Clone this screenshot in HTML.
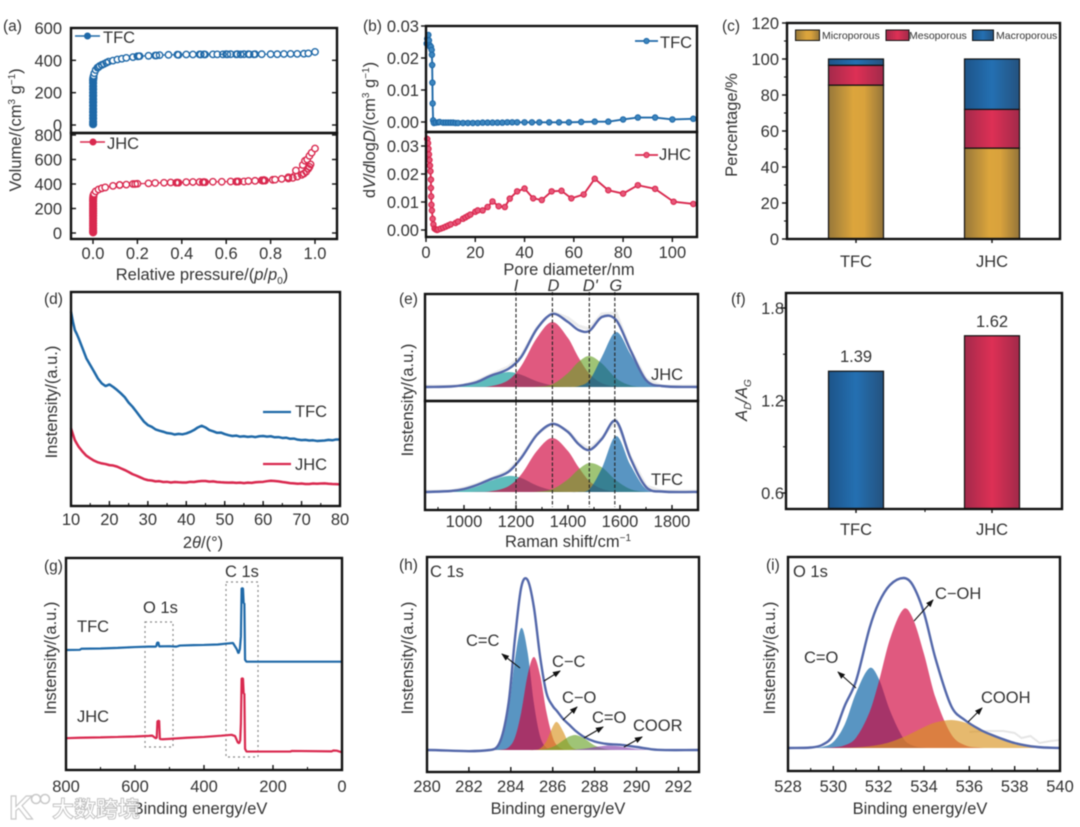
<!DOCTYPE html>
<html lang="en">
<head>
<meta charset="utf-8">
<title>Carbon characterisation figure</title>
<style>
html,body{margin:0;padding:0;background:#fff;width:1080px;height:827px;overflow:hidden}
svg{display:block;filter:blur(0.5px)}
text{font-family:"Liberation Sans","Noto Sans CJK SC",sans-serif;fill:#333;font-size:16.5px}
.it{font-style:italic}
.pl{font-size:15.5px}
</style>
</head>
<body>
<svg id="chart" xmlns="http://www.w3.org/2000/svg" width="1080" height="827" viewBox="0 0 1080 827">
<defs>
<linearGradient id="gGold" x1="0" x2="1" y1="0" y2="0"><stop offset="0" stop-color="#97783a"/><stop offset=".45" stop-color="#dca53c"/><stop offset=".65" stop-color="#d9a23c"/><stop offset="1" stop-color="#94753a"/></linearGradient>
<linearGradient id="gRed" x1="0" x2="1" y1="0" y2="0"><stop offset="0" stop-color="#a42a4b"/><stop offset=".5" stop-color="#de3055"/><stop offset="1" stop-color="#a22a4a"/></linearGradient>
<linearGradient id="gBlue" x1="0" x2="1" y1="0" y2="0"><stop offset="0" stop-color="#1d5489"/><stop offset=".5" stop-color="#2470b2"/><stop offset="1" stop-color="#24527f"/></linearGradient>
<marker id="ah" markerWidth="8" markerHeight="6" refX="7" refY="3" orient="auto" markerUnits="userSpaceOnUse"><path d="M0 0L8 3L0 6Z" fill="#111"/></marker>
</defs>

<!-- panel letters -->
<text class="pl" x="3" y="31">(a)</text>
<text class="pl" x="363" y="31">(b)</text>
<text class="pl" x="722" y="31">(c)</text>
<text class="pl" x="44" y="304">(d)</text>
<text class="pl" x="399" y="304">(e)</text>
<text class="pl" x="731" y="304">(f)</text>
<text class="pl" x="44" y="571">(g)</text>
<text class="pl" x="399" y="570">(h)</text>
<text class="pl" x="766" y="570">(i)</text>

<!-- axis titles -->
<text x="202" y="280" text-anchor="middle">Relative pressure/(<tspan class="it">p</tspan>/<tspan class="it">p</tspan><tspan dy="4" font-size="10">0</tspan><tspan dy="-4">)</tspan></text>
<text transform="rotate(-90 21 130)" x="21" y="130" text-anchor="middle">Volume/(cm<tspan dy="-6" font-size="10">3</tspan><tspan dy="6"> g</tspan><tspan dy="-6" font-size="10">−1</tspan><tspan dy="6">)</tspan></text>
<text x="569" y="275" text-anchor="middle">Pore diameter/nm</text>
<text transform="rotate(-90 375 130)" x="375" y="130" text-anchor="middle">d<tspan class="it">V</tspan>/<tspan class="it">d</tspan>log<tspan class="it">D</tspan>/(cm<tspan dy="-6" font-size="10">3</tspan><tspan dy="6"> g</tspan><tspan dy="-6" font-size="10">−1</tspan><tspan dy="6">)</tspan></text>
<text transform="rotate(-90 737 125)" x="737" y="125" text-anchor="middle">Percentage/%</text>
<text x="203" y="548" text-anchor="middle">2<tspan class="it">θ</tspan>/(°)</text>
<text transform="rotate(-90 57 402)" x="57" y="402" text-anchor="middle">Instensity/(a.u.)</text>
<text x="568" y="547" text-anchor="middle">Raman shift/cm<tspan dy="-6" font-size="10">−1</tspan></text>
<text transform="rotate(-90 413 400)" x="413" y="400" text-anchor="middle">Instensity/(a.u.)</text>
<text transform="rotate(-90 747 400)" x="747" y="400" text-anchor="middle" class="it">A<tspan dy="4" font-size="10">D</tspan><tspan dy="-4">/A</tspan><tspan dy="4" font-size="10">G</tspan></text>
<text x="200" y="814" text-anchor="middle">Binding energy/eV</text>
<text transform="rotate(-90 56 658)" x="56" y="658" text-anchor="middle">Instensity/(a.u.)</text>
<text x="558" y="814" text-anchor="middle">Binding energy/eV</text>
<text transform="rotate(-90 413 658)" x="413" y="658" text-anchor="middle">Instensity/(a.u.)</text>
<text x="920" y="814" text-anchor="middle">Binding energy/eV</text>
<text transform="rotate(-90 775 658)" x="775" y="658" text-anchor="middle">Instensity/(a.u.)</text>

<!-- legends and annotations -->
<text x="103" y="43">TFC</text>
<text x="107" y="149">JHC</text>
<text x="660" y="48">TFC</text>
<text x="659" y="160">JHC</text>

<rect x="795.5" y="30" width="24" height="10.5" fill="url(#gGold)" stroke="#111" stroke-width="1"/>
<text x="822" y="39" style="font-size:10.5px">Microporous</text>
<rect x="886" y="30" width="23" height="10.5" fill="url(#gRed)" stroke="#111" stroke-width="1"/>
<text x="909" y="39" style="font-size:10.5px">Mesoporous</text>
<rect x="972.5" y="30" width="21" height="10.5" fill="url(#gBlue)" stroke="#111" stroke-width="1"/>
<text x="996" y="39" style="font-size:10.5px">Macroporous</text>

<line x1="263" x2="291" y1="412" y2="412" stroke="#1f69a8" stroke-width="2.2"/>
<text x="295" y="417">TFC</text>
<line x1="263" x2="291" y1="464" y2="464" stroke="#d9294f" stroke-width="2.2"/>
<text x="295" y="470">JHC</text>

<text x="651" y="380">JHC</text>
<text x="651" y="485">TFC</text>

<text x="77" y="632">TFC</text>
<text x="77" y="722">JHC</text>
<text x="143" y="613">O 1s</text>
<text x="225" y="577">C 1s</text>
<rect x="145" y="622" width="28" height="125" fill="none" stroke="#888" stroke-width="1.2" stroke-dasharray="2 3"/>
<rect x="226" y="582" width="32" height="175" fill="none" stroke="#888" stroke-width="1.2" stroke-dasharray="2 3"/>

<text x="430" y="577">C 1s</text>
<text x="466" y="646">C=C</text>
<text x="552" y="667">C−C</text>
<text x="562" y="703">C−O</text>
<text x="592" y="723">C=O</text>
<text x="633" y="731">COOR</text>

<text x="793" y="577">O 1s</text>
<text x="935" y="599">C−OH</text>
<text x="804" y="663">C=O</text>
<text x="981" y="703">COOH</text>

<!-- watermark -->
<g opacity=".9">
  <text x="9" y="819" style="font-size:33px;font-weight:bold;fill:#fff;stroke:#c4c4c4;stroke-width:1.2">K</text>
  <circle cx="36" cy="799" r="4.5" fill="#fff" stroke="#c4c4c4" stroke-width="1.6"/>
  <circle cx="45" cy="799" r="4.5" fill="#fff" stroke="#c4c4c4" stroke-width="1.6"/>
  <text x="52" y="817" style="font-size:22px;font-weight:bold;fill:#fff;stroke:#b8b8b8;stroke-width:.9">大数跨境</text>
</g>
</svg>

<script>
// ---------- panel (a) N2 isotherms ----------
const tfcLowP = [0.0005,0.0005,0.0005,0.0005,0.0005,0.0005,0.0005,0.0005,0.0005,0.0005,0.0005,0.0005,0.0005,0.0005,0.0005,0.001,0.002];
const tfcLowV = [5,20,40,60,80,100,120,140,160,180,200,220,240,260,275,285,295];
const tfcP = [0.003,0.006,0.012,0.02,0.03,0.04,0.05,0.07,0.09,0.11,0.13,0.15,0.18,0.2,0.21,0.25,0.28,0.3,0.34,0.38,0.42,0.45,0.48,0.5,0.54,0.56,0.6,0.62,0.65,0.68,0.7,0.73,0.76,0.8,0.83,0.86,0.89,0.92,0.95,0.97,1.0];
const tfcV = [305,320,340,355,365,372,378,392,398,405,410,415,420,425,426,428,430,432,434,435,436,436,437,437,437,437,438,438,438,438,438,438,438,438,438,439,440,440,441,443,452];
const tfcDesP = [0.725,0.705,0.665,0.645,0.605,0.585,0.505,0.485,0.385,0.285,0.205,0.06,0.04,0.025];
const tfcDesV = [437,437,437,437,437,437,436,436,434,430,425,385,372,358];
const jhcLowP = [0.0005,0.0005,0.0005,0.0005,0.0005,0.0005,0.0005,0.0005,0.0005,0.0005,0.0005,0.0005,0.0005,0.0005,0.0005,0.001,0.002];
const jhcLowV = [5,20,40,60,80,100,120,140,160,180,200,220,240,260,275,290,305];
const jhcP = [0.005,0.012,0.025,0.04,0.055,0.09,0.12,0.15,0.18,0.2,0.25,0.28,0.32,0.35,0.38,0.42,0.45,0.48,0.5,0.54,0.58,0.62,0.65,0.68,0.7,0.73,0.76,0.77,0.81,0.82,0.85,0.88,0.914,0.945,0.955,0.965,0.975,0.985,1.0];
const jhcV = [320,340,355,365,372,385,392,395,400,402,405,408,410,412,412,415,416,416,416,418,418,420,420,420,424,426,430,432,434,436,442,455,510,555,590,600,630,655,690];
const jhcDesP = [0.98,0.975,0.97,0.96,0.95,0.94,0.92,0.9,0.88,0.775,0.765,0.655,0.645,0.505,0.495,0.385,0.375,0.19,0.12];
const jhcDesV = [560,540,525,500,485,475,460,450,445,428,427,420,419,414,414,410,410,400,392];

// ---------- panel (b) pore size distribution ----------
const tfcD = [0.3,0.5,0.95,1.2,1.5,1.7,2,2.3,2.4,2.5,2.6,2.7,2.9,3.2,4,5,5.5,7,8,9,10,11,12,13,15,17,19,21,23,25,27,29,31,33,35,37,40,43,46,50,54,58,63,68.5,74,80,86,93,100,108.5];
const tfcDV = [0.0245,0.026,0.0272,0.0255,0.024,0.0235,0.0235,0.0225,0.021,0.0178,0.0123,0.0058,0.0005,-0.0003,-0.0002,-0.0001,0,-0.0002,-0.0002,-0.0002,-0.0002,-0.0002,-0.0003,-0.0003,-0.0003,-0.0003,-0.0003,-0.0003,-0.0002,-0.0002,-0.0002,-0.0002,-0.0002,-0.0001,-0.0001,-0.0001,-0.0001,-0.0001,-0.0001,-0.0001,-0.0001,-0.0001,0,0.0001,0.0001,0.0008,0.0014,0.0014,0.0008,0.001];
const jhcD = [0.5,0.8,1,1.2,1.4,1.6,1.8,2,2,2.1,2.2,2.4,2.7,3,3.5,4,4.5,5,6,7,8,9,10,12,13,15,16,17,18,20,21,23,25,27,29.5,32,34,37,40,43.5,47,51,55,59,64,68.5,74,80,86,93,100.5,108.5];
const jhcDV = [0.0325,0.031,0.029,0.027,0.025,0.023,0.021,0.018,0.015,0.012,0.009,0.007,0.004,0.002,0.0005,0.0002,0,0.0002,0.0005,0.0008,0.0012,0.0016,0.002,0.0025,0.003,0.004,0.0045,0.005,0.0055,0.0065,0.007,0.007,0.0082,0.0102,0.0085,0.0082,0.0112,0.0138,0.0148,0.0113,0.0107,0.0138,0.014,0.0113,0.0127,0.0183,0.0142,0.013,0.016,0.0147,0.0101,0.0093];

// ---------- panel (c) pore fractions ----------
const barSamples = ['TFC','JHC'];
const microPct = [85.5,50.5];
const mesoPct = [11,21.5];
const macroPct = [3.5,28];

// ---------- panel (d) XRD ----------
const xrdTheta = [10,10.5,11,11.5,12,13,14,15,16,17,18,19,20,21,22,23,24,25,26,27,28,29,30,31,32,33,34,35,36,37,38,39,40,41,42,43,44,45,46,47,48,49,50,51,52,53,54,55,56,57,58,59,60,61,62,63,64,65,66,67,68,69,70,71,72,73,74,75,76,77,78,79,80];
const xrdTfc = [90.8,86.1,82.2,80.4,78.3,73.7,69,65.9,62.8,59.6,57.3,56,56.8,55.6,54.2,52.6,50.8,48.3,46.4,44.1,41.7,39.4,37.8,37,35.8,35.2,34.7,34.1,33.9,33.4,33.7,33.5,33.9,34.6,35.5,36.7,37.5,36.7,35.5,34.9,34.2,34.3,33.6,33.1,32.7,32.9,32.4,32.6,32.3,32.5,32.2,32.6,32.7,32.4,32.6,32.1,32.2,31.8,31.9,31.4,31.5,31,30.8,30.9,30.6,30.7,30.4,30.5,30.6,30.9,30.7,31.1,31.1];
const xrdJhc = [36.3,33.5,30.8,29.2,27.7,25.4,23.5,22.3,21.2,20.4,19.9,19.6,19.1,18.9,18.4,17.6,16.8,15.9,14.9,14.2,13.4,12.6,12.1,11.9,11.5,11.6,11.2,11.3,11,11.2,11.1,11,11,11.3,11.2,11.5,11.7,11.7,11.4,11.5,11.2,11.1,11,10.9,11,10.8,10.9,10.7,10.9,10.8,11.1,11.2,11.3,11.6,11.8,11.7,11.5,11.2,11,10.7,10.6,10.4,10.5,10.3,10.3,10.5,10.4,10.5,10.6,10.4,10.3,10.2,10.1];

// ---------- panel (e) Raman ----------
const ramanShift = [850,950,1000,1050,1100,1170,1220,1280,1340,1400,1440,1482,1530,1585,1640,1700,1760,1900];
const ramanBands = ['I','D',"D'",'G'];
const ramanBandCenters = [1200,1340,1482,1580];
const jhcI = [0,.34,1.6,4.9,10.2,15,12.3,5.8,1.6,.2,0,0,0,0,0,0,0,0];
const jhcDband = [0,0,0,.1,.7,6.8,21,49,65,49,29.8,13.4,3.9,.6,0,0,0,0];
const jhcDprime = [0,0,0,0,0,0,0,.25,2.8,14,25,31,23.6,8.8,1.6,.1,0,0];
const jhcG = [0,0,0,0,0,0,0,0,0,.05,.8,6.6,30,55,33,6,.1,0];
const jhcEnv = [0,.5,2,5,11,18,30,58,73,65,57,56,70,67,37,7,1,0];
const jhcRaw = [1,1,2,6,12,20,31,59,75,69,61,58,73,74,37,8,1,1];
const tfcI = [0,.4,2,5.5,11,16,14,6.5,1.8,.3,0,0,0,0,0,0,0,0];
const tfcDband = [0,0,0,.1,.6,5.6,17.5,41,54,41,25,11,3.2,.5,0,0,0,0];
const tfcDprime = [0,0,0,0,0,0,0,.3,2.9,12.7,22.5,29,24.7,11.6,2.9,.3,0,0];
const tfcG = [0,0,0,0,0,0,0,0,0,0,.1,2.7,23.6,56,27,3,0,0];
const tfcEnv = [0,1,3,7,12.5,20,34,57,68,60,48,42,53,71,34,5,.5,0];
const tfcRaw = [1,1,4,8,13,21,35,58,69,61,49,43,54,72,35,6,1,1];

// ---------- panel (f) AD/AG ----------
const adagValues = [1.39,1.62];
const adagLabels = ['1.39','1.62'];

// ---------- panel (g) XPS survey ----------
const surveyTfcBE = [800,760,755,700,650,600,560,540,538,536,532,530,500,480,470,430,400,360,330,316,305,300,296,293,291,287,285,283,281,277,0];
const surveyTfc = [56.6,56.7,57.2,57.3,57.6,58,58.2,58.2,58.5,60,60.2,58.3,58.4,58.2,58.7,58.9,59,59.2,59.7,59.9,57,55,57,63,85.7,85.7,78.6,78.6,52,51.1,51.1];
const surveyJhcBE = [800,760,700,650,600,560,550,540,537,535,530,528,520,500,450,400,350,320,310,302,298,295,293,291,287,285,283,281,277,150,145,30,25,15,5,0];
const surveyJhc = [15,15.2,15.4,15.6,15.8,16.1,16.2,15,15.2,23,23.3,14.6,14.5,14.7,15.2,15.6,16.2,16.6,16,13,12.6,14,22,43.2,43.2,36,36,10,8.7,8.7,9,8.8,9.2,9.1,8.6,8.4];

// ---------- panel (h) C 1s ----------
const c1sBE = [280,283,283.5,283.9,284.2,284.5,284.8,285.1,285.4,285.7,286,286.2,286.5,286.8,287.1,287.5,288,288.6,289.2,290,291,293];
const c1sCC2 = [0,.2,6.4,41,91,122,98,47,13.5,2.4,.2,0,0,0,0,0,0,0,0,0,0,0];
const c1sCC1 = [0,0,.2,2.7,12.6,38,74.6,93,74.6,38,12.6,4.7,.7,.1,0,0,0,0,0,0,0,0];
const c1sCO1 = [0,0,0,0,0,0,0,0,1.5,8.9,23.3,28,18.5,5.4,.7,0,0,0,0,0,0,0];
const c1sCO2 = [0,0,0,0,0,0,0,0,.3,1.1,3.1,5.2,9.6,13.6,15,11.6,4.5,.6,0,0,0,0];
const c1sCOOR = [0,0,0,0,0,0,0,0,0,0,0,0,0,0,.5,1.25,2.9,4.4,3.6,1,0,0];
const c1sEnv = [0,0,9,48,112,163,170,143,93,57,44,39,31,25,19,13,8.5,6,5.3,3,.2,0];

// ---------- panel (i) O 1s ----------
const o1sBE = [528,529,529.5,530,530.5,531,531.6,532,532.5,533.1,533.5,534,534.5,535.2,535.8,536.5,537,538,539,540];
const o1sCO = [0,.1,1,6.1,23.4,54.9,80,69.5,37.4,9.3,2.5,.3,0,0,0,0,0,0,0,0];
const o1sCOH = [0,0,0,.6,2.7,10.3,36,65.7,109,139,130,94,51,13.8,2.9,.3,0,0,0,0];
const o1sCOOH = [0,0,0,0,.2,.6,1.7,3.1,5.9,11,15.3,20.9,25.5,28,25.5,18.7,13,4.6,1,.1];
const o1sEnv = [0,.5,3,13,42,67,120,145,163,170,163,135,90,42,28,18,13,5,1,0];
const o1sRawBE = [536,536.8,537.5,538,538.3,538.7,539.1,539.6,540];
const o1sRaw = [16,17,17,15,10,12,5,7,8];

// ---------- tick values / labels ----------
const aXTicks = [0,0.2,0.4,0.6,0.8,1.0];
const aXLabels = ['0.0','0.2','0.4','0.6','0.8','1.0'];
const aTopTicks = [0,200,400,600];
const aTopLabels = ['0','200','400','600'];
const aLowTicks = [0,200,400,600,800];
const aLowLabels = ['0','200','400','600','800'];
const bXTicks = [0,20,40,60,80,100];
const bXLabels = ['0','20','40','60','80','100'];
const bYTicks = [0,0.01,0.02,0.03];
const bYLabels = ['0.00','0.01','0.02','0.03'];
const cYTicks = [0,20,40,60,80,100,120];
const cYLabels = ['0','20','40','60','80','100','120'];
const cYMinor = [10,30,50,70,90,110];
const dXTicks = [10,20,30,40,50,60,70,80];
const dXLabels = ['10','20','30','40','50','60','70','80'];
const dXMinor = [15,25,35,45,55,65,75];
const eXTicks = [1000,1200,1400,1600,1800];
const eXLabels = ['1000','1200','1400','1600','1800'];
const eXMinor = [900,1100,1300,1500,1700];
const fYTicks = [0.6,1.2,1.8];
const fYLabels = ['0.6','1.2','1.8'];
const fYMinor = [0.9,1.5];
const gXTicks = [800,600,400,200,0];
const gXLabels = ['800','600','400','200','0'];
const gXMinor = [700,500,300,100];
const hXTicks = [280,282,284,286,288,290,292];
const hXLabels = ['280','282','284','286','288','290','292'];
const iXTicks = [528,530,532,534,536,538,540];
const iXLabels = ['528','530','532','534','536','538','540'];
const iXMinor = [529,531,533,535,537,539];

// ---------- helpers ----------
const NS = 'http://www.w3.org/2000/svg';
const root = document.getElementById('chart');
const BLUE = '#1f69a8', RED = '#d9294f', ENV = '#5468aa', INK = '#111';
function mk(tag, attrs, name) {
  const el = document.createElementNS(NS, tag);
  for (const k in attrs) el.setAttribute(k, attrs[k]);
  
  
  root.appendChild(el);
  return el;
}
function label(x, y, str, anchor, name) {
  const el = mk('text', {x: x, y: y, 'text-anchor': anchor}, name);
  el.textContent = str;
  return el;
}
function scale(d0, d1, r0, r1) { return v => r0 + (v - d0) * (r1 - r0) / (d1 - d0); }
function poly(xs, ys, sx, sy) { return xs.map((x, i) => (i ? 'L' : 'M') + sx(x).toFixed(2) + ' ' + sy(ys[i]).toFixed(2)).join(''); }
function smooth(xs, ys, sx, sy) {
  const px = xs.map(sx), py = ys.map(sy), n = px.length;
  const slope = i => {
    const a = Math.max(i - 1, 0), b = Math.min(i + 1, n - 1);
    return (py[b] - py[a]) / (px[b] - px[a]);
  };
  let d = 'M' + px[0].toFixed(2) + ' ' + py[0].toFixed(2);
  for (let i = 0; i < n - 1; i++) {
    const h = (px[i + 1] - px[i]) / 3;
    d += 'C' + (px[i] + h).toFixed(2) + ' ' + (py[i] + slope(i) * h).toFixed(2) + ' ' +
         (px[i + 1] - h).toFixed(2) + ' ' + (py[i + 1] - slope(i + 1) * h).toFixed(2) + ' ' +
         px[i + 1].toFixed(2) + ' ' + py[i + 1].toFixed(2);
  }
  return d;
}
function peak(xs, ys, sx, sy, color, name) {
  const d = smooth(xs, ys, sx, sy) + 'L' + sx(xs[xs.length - 1]) + ' ' + sy(0) + 'L' + sx(xs[0]) + ' ' + sy(0) + 'Z';
  mk('path', {d: d, fill: color, 'fill-opacity': .65, stroke: 'none'}, name);
}
function envelope(xs, ys, sx, sy, name) {
  mk('path', {d: smooth(xs, ys, sx, sy), fill: 'none', stroke: ENV, 'stroke-width': 2.4}, name);
}
function xAxis(vals, labs, minor, sx, yAxis, yLab, dir, pfx) {
  vals.forEach((v, i) => {
    mk('line', {x1: sx(v), x2: sx(v), y1: yAxis, y2: yAxis + dir * 5, stroke: INK, 'stroke-width': 1.4}, pfx + '-x-tick');
    label(sx(v), yLab, labs[i], 'middle', pfx + '-x-tick-label');
  });
  minor.forEach(v => {
    mk('line', {x1: sx(v), x2: sx(v), y1: yAxis, y2: yAxis + dir * 3, stroke: INK, 'stroke-width': 1.1}, pfx + '-x-minor-tick');
  });
}
function yAxis(vals, labs, minor, sy, xAxisPos, xLab, dir, pfx) {
  vals.forEach((v, i) => {
    mk('line', {x1: xAxisPos, x2: xAxisPos + dir * 5, y1: sy(v), y2: sy(v), stroke: INK, 'stroke-width': 1.4}, pfx + '-y-tick');
    label(xLab, sy(v) + 6, labs[i], 'end', pfx + '-y-tick-label');
  });
  minor.forEach(v => {
    mk('line', {x1: xAxisPos, x2: xAxisPos + dir * 3, y1: sy(v), y2: sy(v), stroke: INK, 'stroke-width': 1.1}, pfx + '-y-minor-tick');
  });
}
function frame(x0, y0, x1, y1, name) {
  mk('rect', {x: x0, y: y0, width: x1 - x0, height: y1 - y0, fill: 'none', stroke: INK, 'stroke-width': 2.4}, name);
}
function markers(xs, ys, sx, sy, r, fill, stroke, sw, name) {
  xs.forEach((x, i) => {
    mk('circle', {cx: sx(x), cy: sy(ys[i]), r: r, fill: fill, stroke: stroke, 'stroke-width': sw}, name);
  });
}

// ---------- panel a ----------
const ax = scale(0, 1, 93, 315), ayT = scale(0, 600, 125, 28), ayB = scale(0, 800, 233, 135);
mk('path', {d: poly(tfcP, tfcV, ax, ayT), fill: 'none', stroke: BLUE, 'stroke-width': 1.2}, 'a-tfc-line');
markers(tfcLowP, tfcLowV, ax, ayT, 3.6, BLUE, BLUE, 1, 'a-tfc-low-pressure-point');
markers(tfcP, tfcV, ax, ayT, 3.2, '#fff', BLUE, 1.4, 'a-tfc-point');
markers(tfcDesP, tfcDesV, ax, ayT, 3.2, 'none', BLUE, 1.4, 'a-tfc-desorption-point');
mk('path', {d: poly(jhcP, jhcV, ax, ayB), fill: 'none', stroke: RED, 'stroke-width': 1.2}, 'a-jhc-line');
markers(jhcLowP, jhcLowV, ax, ayB, 3.6, RED, RED, 1, 'a-jhc-low-pressure-point');
markers(jhcP, jhcV, ax, ayB, 3.2, '#fff', RED, 1.4, 'a-jhc-point');
markers(jhcDesP, jhcDesV, ax, ayB, 3.2, 'none', RED, 1.4, 'a-jhc-desorption-point');
mk('line', {x1: 75, x2: 100, y1: 36, y2: 36, stroke: BLUE, 'stroke-width': 1.4}, 'a-legend-line-tfc');
mk('circle', {cx: 87.5, cy: 36, r: 3, fill: BLUE, stroke: BLUE}, 'a-legend-marker-tfc');
mk('line', {x1: 80, x2: 105, y1: 142, y2: 142, stroke: RED, 'stroke-width': 1.4}, 'a-legend-line-jhc');
mk('circle', {cx: 93, cy: 142, r: 3, fill: RED, stroke: RED}, 'a-legend-marker-jhc');
xAxis(aXTicks, aXLabels, [], ax, 239, 259, 1, 'a');
yAxis(aTopTicks, aTopLabels, [], ayT, 71, 62, 1, 'a-top');
yAxis(aTopTicks, [' ',' ',' ',' '], [], ayT, 337, 400, -1, 'a-top-right');
yAxis(aLowTicks, aLowLabels, [], ayB, 71, 62, 1, 'a-bottom');
yAxis(aLowTicks, [' ',' ',' ',' ',' '], [], ayB, 337, 400, -1, 'a-bottom-right');
frame(71, 28, 337, 133, 'a-top-frame');
frame(71, 133, 337, 239, 'a-bottom-frame');

// ---------- panel b ----------
const bx = scale(0, 110, 426, 697), byT = scale(0, 0.03, 122, 26), byB = scale(0, 0.03, 230, 146);
mk('path', {d: poly(tfcD, tfcDV, bx, byT), fill: 'none', stroke: BLUE, 'stroke-width': 1.9}, 'b-tfc-line');
markers(tfcD, tfcDV, bx, byT, 2.7, '#3d86bf', BLUE, 1.1, 'b-tfc-point');
mk('path', {d: poly(jhcD, jhcDV, bx, byB), fill: 'none', stroke: RED, 'stroke-width': 1.9}, 'b-jhc-line');
markers(jhcD, jhcDV, bx, byB, 2.7, '#e8577a', RED, 1.1, 'b-jhc-point');
mk('line', {x1: 635, x2: 658, y1: 41, y2: 41, stroke: BLUE, 'stroke-width': 1.7}, 'b-legend-line-tfc');
mk('circle', {cx: 646.5, cy: 41, r: 2.6, fill: '#3d86bf', stroke: BLUE}, 'b-legend-marker-tfc');
mk('line', {x1: 635, x2: 658, y1: 155, y2: 155, stroke: RED, 'stroke-width': 1.7}, 'b-legend-line-jhc');
mk('circle', {cx: 646.5, cy: 155, r: 2.6, fill: '#e8577a', stroke: RED}, 'b-legend-marker-jhc');
xAxis(bXTicks, bXLabels, [], bx, 237, 258, 1, 'b');
yAxis(bYTicks, bYLabels, [], byT, 426, 419, -1, 'b-top');
yAxis(bYTicks, bYLabels, [], byB, 426, 419, -1, 'b-bottom');
frame(426, 26, 697, 132, 'b-top-frame');
frame(426, 132, 697, 237, 'b-bottom-frame');

// ---------- panel c ----------
const cy = scale(0, 120, 239, 23);
const cCat = i => 856 + 136 * i;
barSamples.forEach((s, i) => {
  const parts = [[microPct[i], 'url(#gGold)', 'microporous'], [mesoPct[i], 'url(#gRed)', 'mesoporous'], [macroPct[i], 'url(#gBlue)', 'macroporous']];
  let base = 0;
  parts.forEach(p => {
    mk('rect', {x: cCat(i) - 27.5, y: cy(base + p[0]), width: 55, height: cy(base) - cy(base + p[0]), fill: p[1], stroke: INK, 'stroke-width': 1.2}, 'c-bar-' + s.toLowerCase() + '-' + p[2]);
    base += p[0];
  });
  mk('line', {x1: cCat(i), x2: cCat(i), y1: 239, y2: 243, stroke: INK, 'stroke-width': 1.4}, 'c-x-tick');
  label(cCat(i), 267, s, 'middle', 'c-category-label');
});
yAxis(cYTicks, cYLabels, cYMinor, cy, 787, 779, -1, 'c');
frame(787, 23, 1060, 239, 'c-frame');

// ---------- panel d ----------
const dx = scale(10, 80, 71, 340), dy = scale(0, 100, 506, 292);
mk('path', {d: poly(xrdTheta, xrdTfc, dx, dy), fill: 'none', stroke: BLUE, 'stroke-width': 2.5, 'stroke-linejoin': 'bevel'}, 'd-tfc-curve');
mk('path', {d: poly(xrdTheta, xrdJhc, dx, dy), fill: 'none', stroke: RED, 'stroke-width': 2.5, 'stroke-linejoin': 'bevel'}, 'd-jhc-curve');
xAxis(dXTicks, dXLabels, dXMinor, dx, 506, 525, -1, 'd');
frame(71, 292, 340, 506, 'd-frame');

// ---------- panel e ----------
const ex = scale(1000, 1800, 464, 672), eyT = v => 387 - v, eyB = v => 492 - v;
const TEAL = '#099898', PINK = '#d0003a', GREEN = '#6ca52d', PBLUE = '#005ca1', GOLD = '#d99420', PURPLE = '#843fab';
mk('path', {d: poly(ramanShift, jhcRaw, ex, eyT), fill: 'none', stroke: '#ececec', 'stroke-width': 3}, 'e-jhc-raw');
peak(ramanShift, jhcI, ex, eyT, TEAL, 'e-jhc-peak-i');
peak(ramanShift, jhcDband, ex, eyT, PINK, 'e-jhc-peak-d');
peak(ramanShift, jhcDprime, ex, eyT, GREEN, 'e-jhc-peak-d-prime');
peak(ramanShift, jhcG, ex, eyT, PBLUE, 'e-jhc-peak-g');
envelope(ramanShift, jhcEnv, ex, eyT, 'e-jhc-envelope');
mk('path', {d: poly(ramanShift, tfcRaw, ex, eyB), fill: 'none', stroke: '#ececec', 'stroke-width': 3}, 'e-tfc-raw');
peak(ramanShift, tfcI, ex, eyB, TEAL, 'e-tfc-peak-i');
peak(ramanShift, tfcDband, ex, eyB, PINK, 'e-tfc-peak-d');
peak(ramanShift, tfcDprime, ex, eyB, GREEN, 'e-tfc-peak-d-prime');
peak(ramanShift, tfcG, ex, eyB, PBLUE, 'e-tfc-peak-g');
envelope(ramanShift, tfcEnv, ex, eyB, 'e-tfc-envelope');
ramanBandCenters.forEach((c, i) => {
  mk('line', {x1: ex(c), x2: ex(c), y1: 292, y2: 507, stroke: '#222', 'stroke-width': 1.1, 'stroke-dasharray': '3.5 2'}, 'e-band-guide');
  const t = label(ex(c) + (i > 0 ? 1 : 0), 291, ramanBands[i], 'middle', 'e-band-label');
  t.setAttribute('class', 'it');
});
xAxis(eXTicks, eXLabels, eXMinor, ex, 510, 527, -1, 'e');
frame(425, 294, 698, 401, 'e-top-frame');
frame(425, 401, 698, 510, 'e-bottom-frame');

// ---------- panel f ----------
const fy = scale(0.6, 1.8, 493, 308);
const fFill = ['url(#gBlue)', 'url(#gRed)'];
const fBase = 509;
barSamples.forEach((s, i) => {
  mk('rect', {x: cCat(i) - 27.5, y: fy(adagValues[i]), width: 55, height: fBase - fy(adagValues[i]), fill: fFill[i], stroke: INK, 'stroke-width': 1.2}, 'f-bar-' + s.toLowerCase());
  label(cCat(i), fy(adagValues[i]) - 9, adagLabels[i], 'middle', 'f-value-label');
  mk('line', {x1: cCat(i), x2: cCat(i), y1: 509, y2: 513, stroke: INK, 'stroke-width': 1.4}, 'f-x-tick');
  label(cCat(i), 535, s, 'middle', 'f-category-label');
});
mk('line', {x1: 925, x2: 925, y1: 509, y2: 512, stroke: INK, 'stroke-width': 1.1}, 'f-x-minor-tick');
yAxis(fYTicks, fYLabels, fYMinor, fy, 786, 784, -1, 'f');
frame(786, 293, 1062, 509, 'f-frame');

// ---------- panel g ----------
const gx = scale(800, 0, 66, 342), gy = scale(0, 100, 770, 558);
mk('path', {d: poly(surveyTfcBE, surveyTfc, gx, gy), fill: 'none', stroke: BLUE, 'stroke-width': 2.2, 'stroke-linejoin': 'bevel'}, 'g-tfc-curve');
mk('path', {d: poly(surveyJhcBE, surveyJhc, gx, gy), fill: 'none', stroke: RED, 'stroke-width': 2.2, 'stroke-linejoin': 'bevel'}, 'g-jhc-curve');
xAxis(gXTicks, gXLabels, gXMinor, gx, 770, 792, -1, 'g');
frame(66, 558, 342, 770, 'g-frame');

// ---------- panel h ----------
const hx = scale(280, 293, 427, 699.4), hy = v => 750 - v;
peak(c1sBE, c1sCC2, hx, hy, PBLUE, 'h-peak-c-double-c');
peak(c1sBE, c1sCC1, hx, hy, PINK, 'h-peak-c-c');
peak(c1sBE, c1sCO1, hx, hy, GOLD, 'h-peak-c-o');
peak(c1sBE, c1sCO2, hx, hy, GREEN, 'h-peak-c-double-o');
peak(c1sBE, c1sCOOR, hx, hy, PURPLE, 'h-peak-coor');
envelope(c1sBE, c1sEnv, hx, hy, 'h-envelope');
xAxis(hXTicks, hXLabels, [], hx, 772, 792, -1, 'h');
frame(427, 557, 699, 772, 'h-frame');

// ---------- panel i ----------
const ix = scale(528, 540, 788, 1060), iy = v => 748 - v;
mk('path', {d: poly(o1sRawBE, o1sRaw, ix, iy), fill: 'none', stroke: '#e6e6e6', 'stroke-width': 2}, 'i-raw');
peak(o1sBE, o1sCO, ix, iy, PBLUE, 'i-peak-c-double-o');
peak(o1sBE, o1sCOH, ix, iy, PINK, 'i-peak-c-oh');
peak(o1sBE, o1sCOOH, ix, iy, GOLD, 'i-peak-cooh');
envelope(o1sBE, o1sEnv, ix, iy, 'i-envelope');
xAxis(iXTicks, iXLabels, iXMinor, ix, 771, 792, -1, 'i');
frame(788, 557, 1060, 771, 'i-frame');

// ---------- annotation arrows ----------
const arrowStarts = [[520,668,502,654],[544,681,560,671],[563,720,577,707],[584,738,603,727],[624,747,642,737],[914,621,933,600],[856,688,838,672],[968,722,982,708]];
arrowStarts.forEach(a => {
  mk('line', {x1: a[0], y1: a[1], x2: a[2], y2: a[3], stroke: INK, 'stroke-width': 1.1, 'marker-end': 'url(#ah)'}, 'annotation-arrow');
});
</script>
</body>
</html>
